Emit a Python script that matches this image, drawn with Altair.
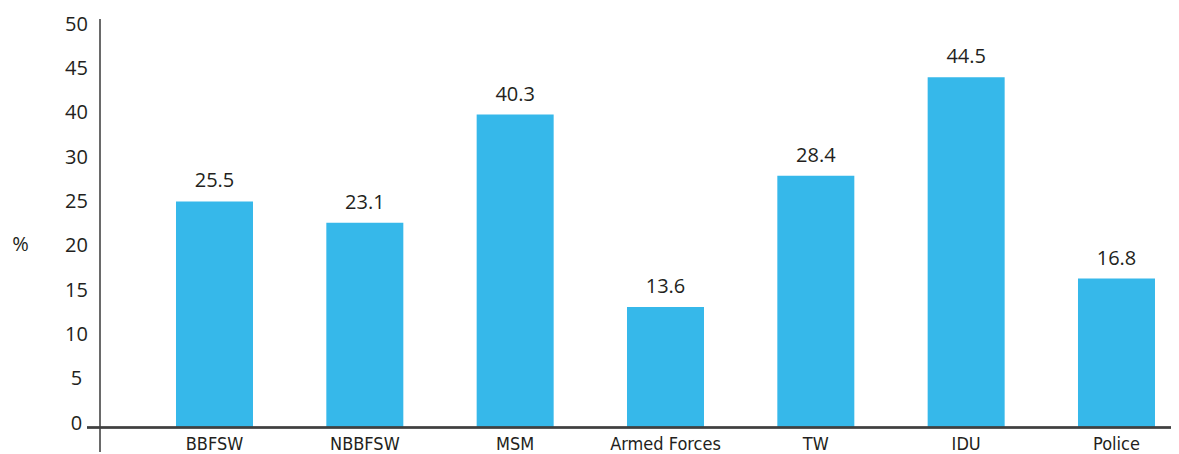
import altair as alt
import pandas as pd

categories = ["BBFSW", "NBBFSW", "MSM", "Armed Forces", "TW", "IDU", "Police"]
values = [25.5, 23.1, 40.3, 13.6, 28.4, 44.5, 16.8]
y_tick_values = [0, 5, 10, 15, 20, 25, 30, 40, 45, 50]
# the original axis skips "35": labels are evenly spaced, so the scale is piecewise
y_domain = [0, 30, 40, 50]
y_steps = [0, 6, 7, 9]  # label slots of each domain break

W = 1071
H = 399
step = H / 9.0
y_range = [H - s * step for s in y_steps]

df = pd.DataFrame({"cat": categories, "val": values})

TXT = "#231F20"
NUM_FONT = "Open Sans"
LBL_FONT = "Liberation Sans Narrow, DejaVu Sans Condensed, sans-serif"

x_enc = alt.X(
    "cat:N",
    sort=categories,
    scale=alt.Scale(paddingInner=0.4878, paddingOuter=0.306, align=0.826),
    axis=alt.Axis(
        title=None, labelAngle=0, domain=False, ticks=False,
        labelFont=LBL_FONT, labelFontSize=18, labelColor=TXT, labelPadding=8,
    ),
)
y_enc = alt.Y(
    "val:Q",
    scale=alt.Scale(domain=y_domain, range=y_range, zero=False, nice=False),
    axis=alt.Axis(
        title="%", titleAngle=0, titleX=-80, titleY=215.5, titleAlign="center",
        titleBaseline="middle", titleFont=NUM_FONT, titleFontSize=20,
        titleFontWeight="normal", titleColor=TXT,
        values=y_tick_values, grid=False, domain=False, ticks=False,
        labelFont=NUM_FONT, labelFontSize=20, labelColor=TXT,
        labelAlign="center", labelPadding=24, labelOffset=-4.5,
    ),
)

base = alt.Chart(df)
bars = base.mark_bar(color="#36B8EA").encode(x=x_enc, y=y_enc)
labels = base.mark_text(
    dy=-14, baseline="alphabetic", fontSize=20, font=NUM_FONT, color=TXT
).encode(x=alt.X("cat:N", sort=categories), y="val:Q", text=alt.Text("val:Q", format=".1f"))

y_line = base.mark_rule(color="#6a6a6a", strokeWidth=2).encode(
    x=alt.value(0), y=alt.value(-9.5), y2=alt.value(H + 24.5)
)
x_line = base.mark_rule(color="#404040", strokeWidth=1.5).encode(
    x=alt.value(-13), x2=alt.value(W), y=alt.value(H)
)

chart = (
    alt.layer(bars, labels, y_line, x_line)
    .properties(
        width=W, height=H,
        padding={"left": 92, "top": 20.5, "right": 0, "bottom": 26},
        autosize=alt.AutoSizeParams(type="none"),
    )
    .configure_view(stroke=None)
)

chart.save("out.html", embed_options={"renderer": "svg", "actions": False})
